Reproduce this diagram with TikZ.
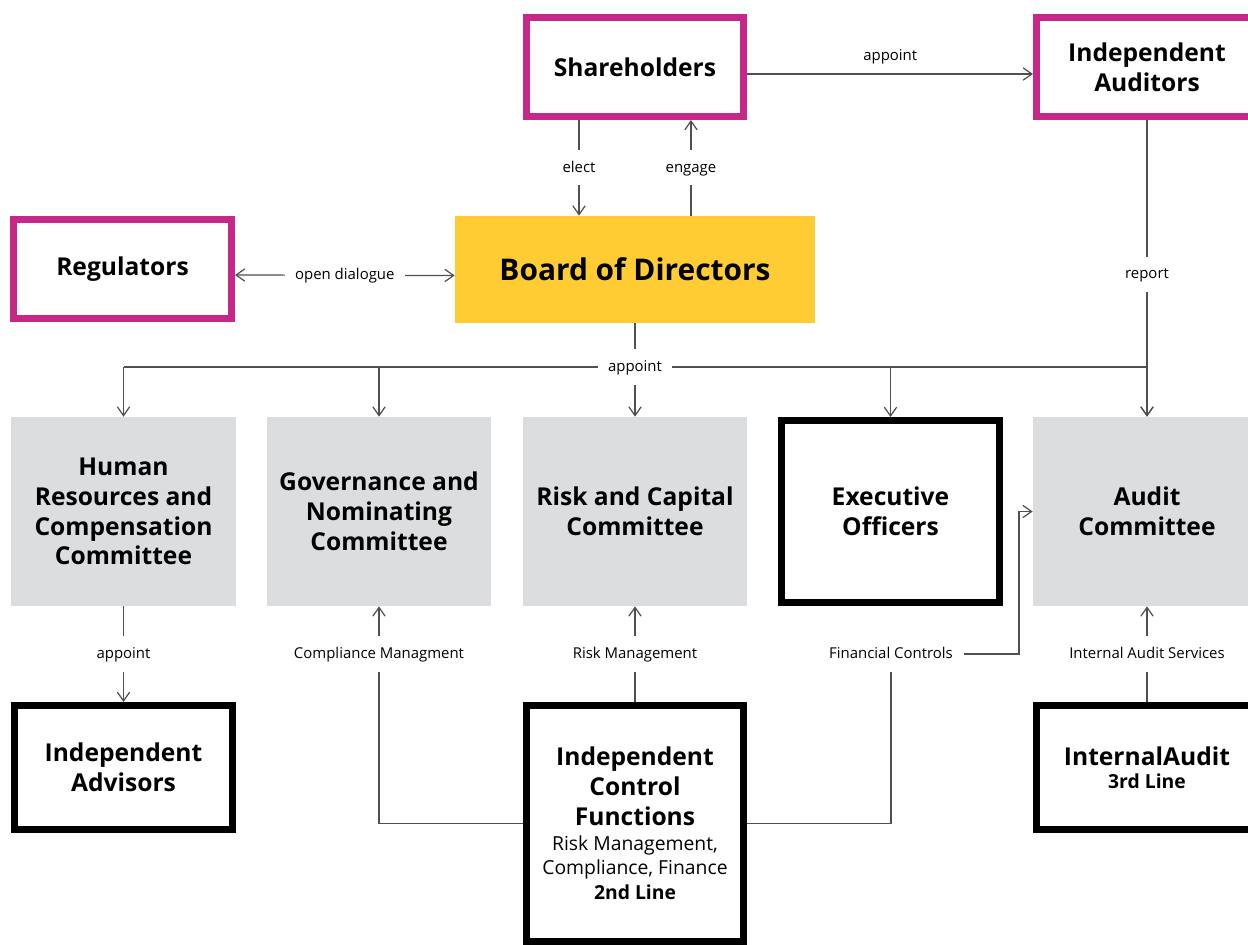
\documentclass[tikz,border=0pt]{standalone}
\usepackage{fontspec}
\setmainfont{Open Sans}
\usepackage{tikz}
\usetikzlibrary{arrows.meta, positioning, calc}

\definecolor{boxmag}{RGB}{198,40,138}
\definecolor{boardyel}{RGB}{255,204,51}
\definecolor{cmtgray}{RGB}{220,221,223}
\definecolor{lnkgray}{RGB}{80,80,80}

\begin{document}
\begin{tikzpicture}[x=0.02cm, y=-0.02cm,
		boxtxt/.style={font=\fontsize{14}{17}\selectfont\bfseries, align=center},
		magbox/.style={boxtxt, draw=boxmag, line width=0.14cm, fill=white, minimum width=4.36cm, minimum height=1.98cm},
		blkbox/.style={boxtxt, draw=black, line width=0.14cm, fill=white, minimum width=4.36cm},
		grybox/.style={boxtxt, fill=cmtgray, minimum width=4.5cm, minimum height=3.78cm},
		lbl/.style={font=\fontsize{8.5}{10}\selectfont, fill=white, inner xsep=6pt, inner ysep=5.5pt, text height=7pt, text depth=2pt},
		ln/.style={draw=lnkgray, line width=0.7pt},
		arr/.style={ln, -{Straight Barb[length=5pt, width=7pt]}},
		darr/.style={ln, {Straight Barb[length=5pt, width=7pt]}-{Straight Barb[length=5pt, width=7pt]}}]
			\clip (0,0) rectangle (1248,944);
			
			% top row
			\node[magbox] (sh) at (635,67) {Shareholders};
			\node[magbox, minimum width=4.42cm] (aud) at (1147,67) {Independent\\Auditors};
			\node[magbox] (reg) at (122.5,269) {Regulators};
			\node[boxtxt, fill=boardyel, minimum width=7.2cm, minimum height=2.14cm, font=\fontsize{17}{20}\selectfont\bfseries] (bod) at (635,269.5) {Board of Directors};
			
			% committees
			\node[grybox] (hr) at (123.5,511.5) {Human\\Resources and\\Compensation\\Committee};
			\node[grybox] (gov) at (379,511.5) {Governance and\\Nominating\\Committee};
			\node[grybox] (risk) at (635,511.5) {Risk and Capital\\Committee};
			\node[blkbox, minimum height=3.64cm] (exec) at (890.5,511.5) {Executive\\Officers};
			\node[grybox, minimum width=4.56cm] (audc) at (1147,511.5) {Audit\\Committee};
			
			% bottom row
			\node[blkbox, minimum height=2.48cm] (adv) at (123.5,767.5) {Independent\\Advisors};
			\node[blkbox, minimum height=4.72cm] (icf) at (635,823.5) {Independent\\Control\\Functions\\[-3pt]
				{\fontsize{11}{13.6}\selectfont\mdseries Risk Management,}\\[-3pt]
				{\fontsize{11}{13.6}\selectfont\mdseries Compliance, Finance}\\[-3pt]
				{\fontsize{11}{13.6}\selectfont 2nd Line}};
			\node[blkbox, minimum width=4.42cm, minimum height=2.48cm] (ia) at (1147,767.5) {InternalAudit\\[-4pt]{\fontsize{11}{13.6}\selectfont 3rd Line}};
			
			% shareholders, auditors, regulators
			\draw[arr] ([yshift=-0.14cm]sh.east) -- node[lbl, fill=none, above=0pt] {appoint} ([yshift=-0.14cm]aud.west);
			\draw[arr] ([xshift=-1.12cm]sh.south) -- node[lbl] {elect} ([xshift=-1.12cm]bod.north);
			\draw[arr] ([xshift=1.12cm]bod.north) -- node[lbl] {engage} ([xshift=1.12cm]sh.south);
			\draw[darr] ([yshift=-0.12cm]reg.east) -- node[lbl] {open dialogue} ([yshift=-0.12cm]bod.west);
			\draw[arr] (aud) -- node[lbl, pos=0.52] {report} (audc);
			
			% board appoints
			\coordinate (jn) at (635,367);
			\draw[ln] (bod) -- (jn);
			\draw[ln] (jn -| hr) -- (jn -| audc);
			\draw[arr] (jn -| hr) -- (hr);
			\draw[arr] (jn -| gov) -- (gov);
			\draw[arr] (jn -| exec) -- (exec);
			\draw[arr] (jn -| audc) -- (audc);
			\node[lbl] (apb) at (jn) {appoint};
			\draw[arr] (apb) -- (risk);
			
			% lower links
			\node[lbl] (aph) at (123.5,654) {appoint};
			\draw[ln] (hr) -- (aph);
			\draw[arr] (aph) -- (adv);
			
			\node[lbl] (cm) at (379,654) {Compliance Managment};
			\draw[ln] (icf.west) -| (cm);
			\draw[arr] (cm) -- (gov);
			
			\node[lbl] (rm) at (635,654) {Risk Management};
			\draw[ln] (icf) -- (rm);
			\draw[arr] (rm) -- (risk);
			
			\node[lbl] (fc) at (891,654) {Financial Controls};
			\coordinate (fcb) at (1019,654);
			\draw[ln] (icf.east) -| (fc);
			\draw[arr] (fc) -- (fcb) |- (audc);
			
			\node[lbl] (ias) at (1147,654) {Internal Audit Services};
			\draw[ln] (ia) -- (ias);
			\draw[arr] (ias) -- (audc);
		\end{tikzpicture}
\end{document}
